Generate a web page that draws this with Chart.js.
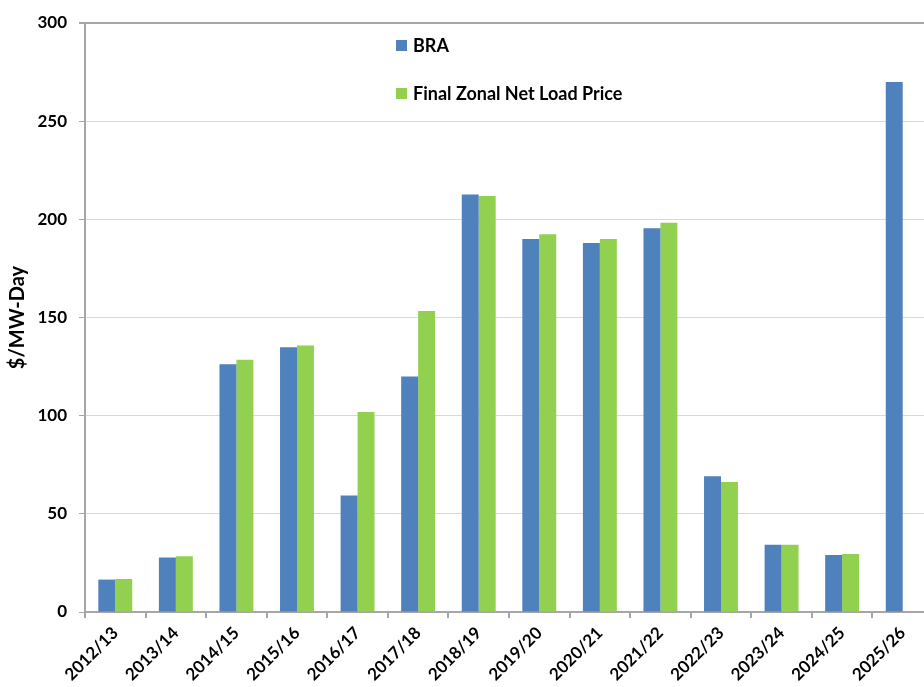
<!DOCTYPE html>
<html>
<head>
<meta charset="utf-8">
<script src="https://cdn.jsdelivr.net/npm/chart.js@4.4.1/dist/chart.umd.min.js"></script>
<style>
    html, body { margin: 0; padding: 0; background: #fff; overflow: hidden; }
    #wrap { width: 934px; height: 687px; position: relative; }
</style>
</head>
<body>
<div id="wrap"><canvas id="bar-chart"></canvas></div>
<script>
let years = ["2012/13", "2013/14", "2014/15", "2015/16", "2016/17", "2017/18", "2018/19",
    "2019/20", "2020/21", "2021/22", "2022/23", "2023/24", "2024/25", "2025/26"];
let braPrice = [16.5, 27.8, 126.2, 134.8, 59.4, 120.0, 212.6, 190.0, 188.0, 195.5, 69.1, 34.3, 29.0, 269.9];
let zonalPrice = [16.8, 28.4, 128.5, 135.7, 101.9, 153.3, 211.9, 192.4, 190.0, 198.3, 66.2, 34.3, 29.5, null];
let yTicks = [0, 50, 100, 150, 200, 250, 300];

let fontFam = "Lato, 'Open Sans', sans-serif";

// legend drawn inside the plot, stacked vertically
let innerLegend = {
    id: 'innerLegend',
    afterDraw(chart) {
        let ctx = chart.ctx;
        ctx.save();
        ctx.font = "bold 18px " + fontFam;
        ctx.textBaseline = "middle";
        let rows = [45, 93];
        chart.data.datasets.forEach((ds, i) => {
            ctx.fillStyle = ds.backgroundColor;
            ctx.fillRect(396, rows[i] - 5, 11, 11);
            ctx.fillStyle = "#000";
            ctx.fillText(ds.label, 413, rows[i] + 1);
        });
        ctx.restore();
    }
};

let barChartEl = document.getElementById('bar-chart');

let config = {
    type: "bar",
    data: {
        labels: years,
        datasets: [
            {
                label: "BRA",
                data: braPrice,
                backgroundColor: "#4F81BD",
                barPercentage: 1,
                categoryPercentage: 0.56
            },
            {
                label: "Final Zonal Net Load Price",
                data: zonalPrice,
                backgroundColor: "#92D050",
                barPercentage: 1,
                categoryPercentage: 0.56
            }
        ]
    },
    options: {
        responsive: true,
        maintainAspectRatio: false,
        animation: false,
        layout: { padding: { left: 0, top: 23, right: 1, bottom: 0 } },
        plugins: {
            legend: { display: false },
            tooltip: { enabled: false }
        },
        scales: {
            x: {
                afterFit(scale) { scale.height = 75; },
                border: { color: "#a6a6a6", width: 2 },
                grid: {
                    offset: true,
                    drawOnChartArea: false,
                    drawTicks: true,
                    tickLength: 6,
                    color: "#a6a6a6",
                    lineWidth: 2
                },
                ticks: {
                    minRotation: 45,
                    maxRotation: 45,
                    color: "#000",
                    padding: 5,
                    font: { family: fontFam, size: 17, weight: "bold" }
                }
            },
            y: {
                min: 0,
                max: 300,
                afterFit(scale) { scale.width = 85; },
                afterBuildTicks(scale) { scale.ticks = yTicks.map(v => ({ value: v })); },
                border: { color: "#a6a6a6", width: 2 },
                grid: {
                    color: ctx => ctx.tick && ctx.tick.value === 300 ? "#a6a6a6" : "#d9d9d9",
                    lineWidth: ctx => ctx.tick && ctx.tick.value === 300 ? 2 : 1,
                    tickLength: 6,
                    tickColor: "#a6a6a6"
                },
                ticks: {
                    color: "#000",
                    padding: 12,
                    font: { family: fontFam, size: 17, weight: "bold" }
                },
                title: {
                    display: true,
                    text: "$/MW-Day",
                    color: "#000",
                    padding: { top: 6, bottom: 0 },
                    font: { family: fontFam, size: 20, weight: "bold" }
                }
            }
        }
    },
    plugins: [innerLegend]
};

let barChart = new Chart(barChartEl, config);
</script>
</body>
</html>
